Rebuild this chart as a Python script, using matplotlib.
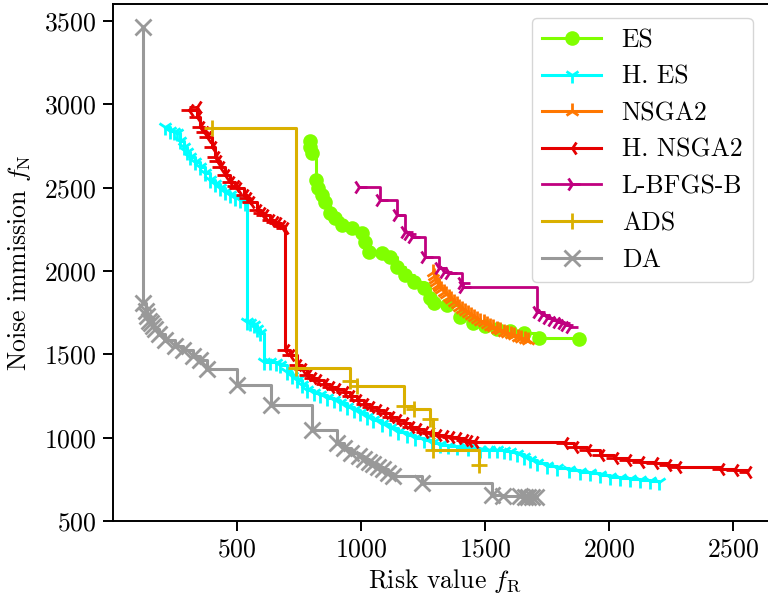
import matplotlib
matplotlib.use("Agg")
import matplotlib.pyplot as plt

plt.rcParams['font.family'] = 'serif'
plt.rcParams['font.serif'] = ['cmr10']
plt.rcParams['mathtext.fontset'] = 'cm'
plt.rcParams['axes.unicode_minus'] = False
plt.rcParams['axes.formatter.use_mathtext'] = True

labels = ["ES", "H. ES", "NSGA2", "H. NSGA2", "L-BFGS-B", "ADS", "DA"]
colors = ["#80ff00", "#00ffff", "#ff7700", "#e60000", "#c0007f", "#dab000", "#999999"]
markers = ["o", "1", "2", "3", "4", "+", "x"]

es_x = [792, 795, 802, 819, 828, 842, 855, 876, 896, 923, 963, 1004, 1017, 1030, 1084, 1118, 1145,
        1178, 1212, 1252, 1279, 1293, 1347, 1400, 1450, 1500, 1550, 1600, 1656, 1716, 1878]
es_y = [2782, 2746, 2706, 2546, 2496, 2456, 2416, 2346, 2316, 2276, 2256, 2226, 2176, 2116, 2106, 2086, 2026,
        1976, 1936, 1896, 1836, 1806, 1796, 1726, 1690, 1670, 1655, 1640, 1626, 1596, 1590]

hes_x = [210, 230, 245, 257, 270, 284, 298, 311, 330, 351, 370, 391, 410, 432, 452, 472, 492, 513, 533, 539,
         552, 566, 580, 593, 607, 634, 655, 674, 701, 720, 741, 760, 782, 810, 835, 862, 889, 916, 943, 970,
         997, 1024, 1050, 1084, 1118, 1150, 1185, 1218, 1252, 1286, 1320, 1350, 1387, 1430, 1481, 1515, 1548,
         1575, 1602, 1630, 1656, 1683, 1710, 1750, 1790, 1840, 1885, 1925, 1965, 2005, 2046, 2087, 2127, 2165,
         2201]
hes_y = [2866, 2840, 2835, 2826, 2780, 2746, 2716, 2686, 2656, 2626, 2586, 2546, 2520, 2496, 2476, 2456, 2440,
         2426, 2406, 1696, 1686, 1676, 1650, 1626, 1456, 1456, 1446, 1436, 1396, 1370, 1346, 1316, 1286, 1270,
         1256, 1240, 1226, 1206, 1186, 1166, 1146, 1126, 1106, 1080, 1056, 1036, 1016, 1000, 986, 970, 956, 950,
         946, 940, 926, 926, 926, 920, 916, 900, 886, 866, 846, 830, 816, 806, 796, 786, 776, 766, 756, 750,
         746, 740, 736]

nsga_x = [1290, 1294, 1298, 1303, 1309, 1316, 1324, 1333, 1343, 1353, 1363, 1374, 1385, 1396, 1408, 1420,
          1432, 1444, 1456, 1468, 1481, 1494, 1507, 1520, 1534, 1548, 1562, 1576, 1590, 1604, 1618, 1632,
          1646, 1660, 1672]
nsga_y = [1995, 1970, 1950, 1932, 1918, 1905, 1890, 1875, 1860, 1845, 1830, 1815, 1800, 1787, 1774, 1761,
          1748, 1735, 1722, 1712, 1702, 1692, 1682, 1672, 1662, 1653, 1645, 1637, 1629, 1621, 1614, 1607,
          1600, 1594, 1588]

hnsga_x = [304, 338, 338, 351, 365, 378, 398, 412, 420, 432, 452, 472, 490, 499, 526, 540, 553, 580, 595, 607,
           634, 650, 661, 675, 687, 694, 714, 741, 760, 782, 800, 822, 850, 876, 900, 929, 955, 983, 1010, 1037,
           1065, 1091, 1118, 1145, 1172, 1199, 1225, 1252, 1280, 1306, 1333, 1360, 1387, 1414, 1430, 1454, 1817,
           1858, 1912, 1965, 2019, 2073, 2127, 2180, 2234, 2275, 2450, 2503, 2557]
hnsga_y = [2966, 2986, 2926, 2866, 2835, 2806, 2746, 2686, 2660, 2626, 2576, 2536, 2510, 2496, 2456, 2436, 2416,
           2366, 2350, 2336, 2306, 2296, 2286, 2270, 2256, 1526, 1496, 1436, 1410, 1376, 1360, 1346, 1325, 1306,
           1290, 1276, 1250, 1226, 1205, 1186, 1165, 1146, 1126, 1106, 1086, 1066, 1050, 1036, 1026, 1016, 1010,
           1006, 996, 986, 980, 976, 970, 946, 926, 896, 876, 866, 856, 846, 836, 826, 810, 806, 796]

lbfgs_x = [990, 1077, 1145, 1176, 1190, 1205, 1259, 1313, 1333, 1353, 1407, 1410, 1710, 1729, 1750, 1770,
           1791, 1811, 1824, 1844]
lbfgs_y = [2502, 2426, 2336, 2236, 2220, 2206, 2086, 2016, 1996, 1986, 1926, 1906, 1756, 1736, 1716, 1706,
           1696, 1686, 1676, 1666]

ads_x = [398, 738, 956, 985, 1172, 1212, 1280, 1292, 1476]
ads_y = [2860, 1416, 1340, 1310, 1190, 1170, 1110, 925, 835]

da_x = [121, 121, 130, 138, 145, 152, 160, 170, 185, 210, 250, 283, 320, 351, 379, 500, 638, 803, 904, 930,
        960, 990, 1010, 1030, 1050, 1070, 1090, 1110, 1130, 1247, 1529, 1574, 1640, 1660, 1675, 1690, 1705]
da_y = [3466, 1810, 1760, 1730, 1700, 1690, 1670, 1650, 1620, 1586, 1550, 1526, 1490, 1466, 1412, 1316, 1196,
        1046, 968, 940, 910, 890, 870, 855, 840, 825, 810, 790, 770, 728, 656, 650, 648, 646, 645, 644, 643]

series = [(es_x, es_y), (hes_x, hes_y), (nsga_x, nsga_y), (hnsga_x, hnsga_y),
          (lbfgs_x, lbfgs_y), (ads_x, ads_y), (da_x, da_y)]

fig = plt.figure(figsize=(7.68, 6.02), dpi=100)
ax = fig.add_axes([113.3 / 768, 81 / 602, 664.1 / 768, 517.3 / 602])

msizes = [8.5, 11, 11, 11, 11, 12, 12]
lws = [2.2, 2.2, 2.2, 2.2, 2.0, 2.2, 2.2]
for (xs, ys), lab, c, m, ms, lw in zip(series, labels, colors, markers, msizes, lws):
    ax.plot(xs, ys, drawstyle='steps-post', color=c, marker=m, markersize=ms,
            markeredgewidth=2.0, linewidth=lw, label=lab)

ax.set_xlim(0, 2680)
ax.set_ylim(500, 3604)
ax.set_xticks([500, 1000, 1500, 2000, 2500])
ax.set_yticks([500, 1000, 1500, 2000, 2500, 3000, 3500])
ax.tick_params(axis='both', labelsize=18.5, length=7, width=1.4, pad=5)
for s in ax.spines.values():
    s.set_linewidth(1.4)

ax.set_xlabel(r"Risk value $f_\mathrm{R}$", fontsize=18.5, labelpad=4)
ax.set_ylabel(r"Noise immission $f_\mathrm{N}$", fontsize=18.5, labelpad=8)

ax.legend(loc='upper right', fontsize=18.5, handlelength=2.3, labelspacing=0.5,
          bbox_to_anchor=(0.982, 0.997))

fig.savefig("out.png", dpi=100)
